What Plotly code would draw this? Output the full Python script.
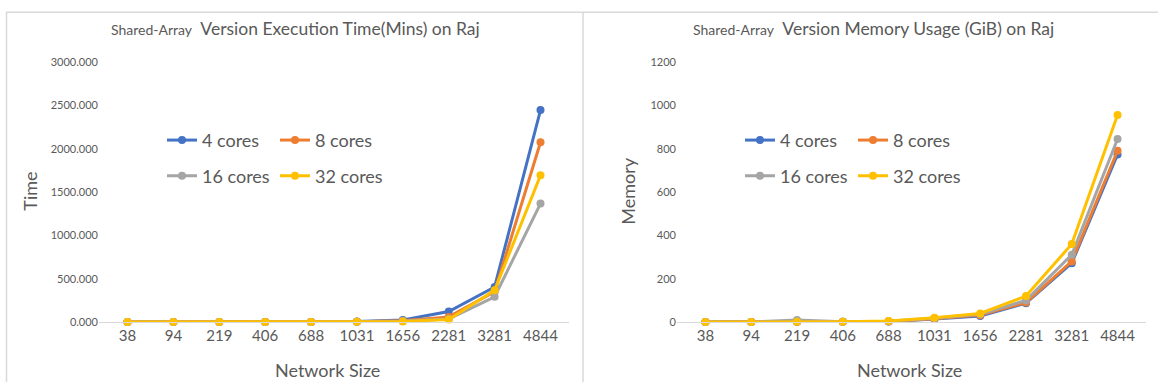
import plotly.graph_objects as go

W, H = 1158, 388

categories = ["38", "94", "219", "406", "688", "1031", "1656", "2281", "3281", "4844"]
series_names = ["4 cores", "8 cores", "16 cores", "32 cores"]
colors = ["#4472C4", "#ED7D31", "#A5A5A5", "#FFC000"]

time_4 = [0.1, 0.2, 0.4, 0.6, 1.5, 8, 25, 122, 405, 2446]
time_8 = [0.1, 0.2, 0.3, 0.5, 1.0, 5, 15, 60, 350, 2075]
time_16 = [0.1, 0.2, 0.3, 0.5, 1.0, 4, 12, 35, 292, 1367]
time_32 = [0.1, 0.2, 0.3, 0.5, 1.0, 3, 8, 30, 367, 1693]

mem_4 = [0.5, 0.5, 2, 1, 3, 14, 28, 87, 272, 774]
mem_8 = [0.5, 0.5, 2, 1, 3, 15, 32, 90, 280, 791]
mem_16 = [0.5, 0.5, 10, 1, 4, 18, 36, 100, 311, 845]
mem_32 = [0.5, 0.5, 1, 1, 5, 20, 40, 120, 360, 956]

time_series = [time_4, time_8, time_16, time_32]
mem_series = [mem_4, mem_8, mem_16, mem_32]

FONT = "Lato"
TXT = "#595959"


def px_x(p):
    return p / W


def px_y(p):
    return 1 - p / H


fig = go.Figure()

left_legends = ["legend", "legend", "legend2", "legend2"]
right_legends = ["legend3", "legend3", "legend4", "legend4"]

for name, vals, col, lg in zip(series_names, time_series, colors, left_legends):
    fig.add_trace(go.Scatter(
        x=categories, y=vals, name=name, mode="lines+markers",
        line=dict(color=col, width=3), marker=dict(color=col, size=8),
        xaxis="x", yaxis="y", legend=lg, cliponaxis=False,
    ))

for name, vals, col, lg in zip(series_names, mem_series, colors, right_legends):
    fig.add_trace(go.Scatter(
        x=categories, y=vals, name=name, mode="lines+markers",
        line=dict(color=col, width=3), marker=dict(color=col, size=8),
        xaxis="x2", yaxis="y2", legend=lg, cliponaxis=False,
    ))

xcommon = dict(
    type="category", showgrid=False, zeroline=False, showline=True,
    linecolor="#D9D9D9", linewidth=1, ticks="",
    tickfont=dict(family=FONT, size=15, color=TXT),
)
ycommon = dict(
    showgrid=False, zeroline=False, showline=False, ticks="",
    tickfont=dict(family=FONT, size=11, color=TXT),
)

legend_common = dict(
    orientation="h", bgcolor="rgba(0,0,0,0)",
    font=dict(family=FONT, size=18, color=TXT),
    entrywidth=68, entrywidthmode="pixels",
    xanchor="left", yanchor="middle", itemwidth=30,
    tracegroupgap=0,
)

fig.update_layout(
    width=W, height=H,
    margin=dict(l=0, r=0, t=0, b=0),
    paper_bgcolor="white", plot_bgcolor="white",
    showlegend=True,
    xaxis=dict(domain=[px_x(99), px_x(569)], anchor="y", **xcommon),
    yaxis=dict(domain=[px_y(326), px_y(57)], anchor="x", range=[0, 3000],
               tickvals=[0, 500, 1000, 1500, 2000, 2500, 3000], tickformat=".3f",
               **ycommon),
    xaxis2=dict(domain=[px_x(677), px_x(1146)], anchor="y2", **xcommon),
    yaxis2=dict(domain=[px_y(326), px_y(57)], anchor="x2", range=[0, 1200],
                tickvals=[0, 200, 400, 600, 800, 1000, 1200], **ycommon),
    legend=dict(x=px_x(162), y=px_y(138), **legend_common),
    legend2=dict(x=px_x(162), y=px_y(175), **legend_common),
    legend3=dict(x=px_x(740), y=px_y(138), **legend_common),
    legend4=dict(x=px_x(740), y=px_y(175), **legend_common),
)

title_l = ("<span style='font-size:14px'>Shared-Array</span>&nbsp; "
           "Version Execution Time(Mins) on Raj")
title_r = ("<span style='font-size:14px'>Shared-Array</span>&nbsp; "
           "Version Memory Usage (GiB) on Raj")

annotations = [
    dict(text=title_l, x=px_x(295), y=px_y(22), font=dict(size=17.5)),
    dict(text=title_r, x=px_x(873), y=px_y(22), font=dict(size=17.5)),
    dict(text="Time", x=px_x(30), y=px_y(190), textangle=-90, font=dict(size=18)),
    dict(text="Memory", x=px_x(628), y=px_y(190), textangle=-90, font=dict(size=18)),
    dict(text="Network Size", x=px_x(327), y=px_y(376), font=dict(size=18)),
    dict(text="Network Size", x=px_x(909), y=px_y(376), font=dict(size=18)),
]
for a in annotations:
    a.update(xref="paper", yref="paper", showarrow=False,
             xanchor="center", yanchor="middle")
    a["font"].update(family=FONT, color=TXT)
fig.update_layout(annotations=annotations)

border = dict(color="#D9D9D9", width=1.5)
fig.update_layout(shapes=[
    dict(type="line", xref="paper", yref="paper", x0=px_x(6), x1=1,
         y0=px_y(5.5), y1=px_y(5.5), line=border),
    dict(type="line", xref="paper", yref="paper", x0=px_x(6.5), x1=px_x(6.5),
         y0=px_y(5.5), y1=0, line=border),
    dict(type="line", xref="paper", yref="paper", x0=px_x(583), x1=px_x(583),
         y0=px_y(5.5), y1=0, line=border),
])

fig.write_html(
    "out.html",
    config={"displayModeBar": False},
    post_script="document.body.style.margin='0';document.body.style.overflow='hidden';",
)
